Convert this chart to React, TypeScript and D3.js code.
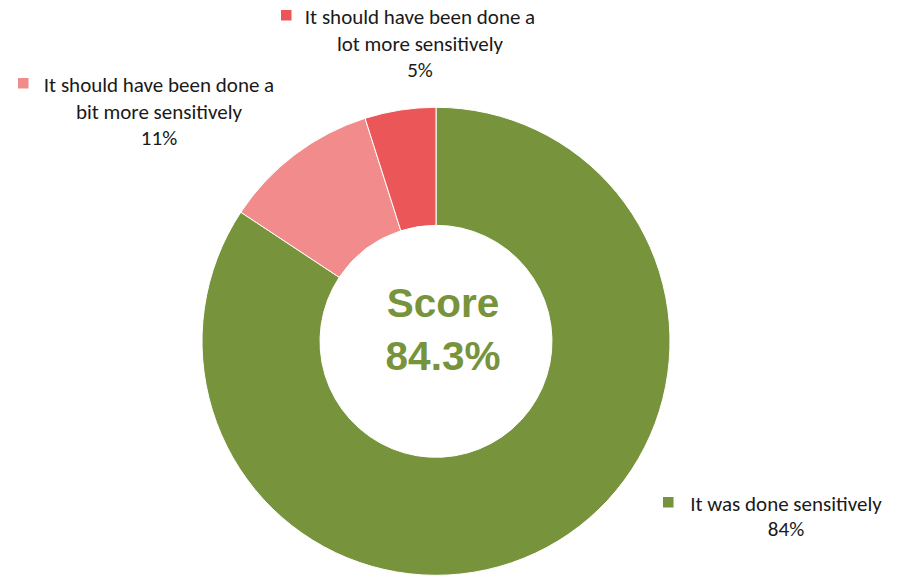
import React from "react";
import * as d3 from "d3";

const categories = [
  "It was done sensitively",
  "It should have been done a bit more sensitively",
  "It should have been done a lot more sensitively",
];
const values = [84.3, 10.8, 4.9];
const labelPct = ["84%", "11%", "5%"];
const colors = ["#77933C", "#F28C8C", "#EB5658"];
const labelLines = [
  ["It was done sensitively", "84%"],
  ["It should have been done a", "bit more sensitively", "11%"],
  ["It should have been done a", "lot more sensitively", "5%"],
];
const scoreLines = ["Score", "84.3%"];

export default function App() {
  const W = 902, H = 579;
  const cx = 436, cy = 341.3, rOut = 234, rIn = 116;
  const pie = d3.pie<number>().value((d) => d).sort(null);
  const arcs = pie(values);
  const arcGen = d3.arc<d3.PieArcDatum<number>>().innerRadius(rIn).outerRadius(rOut);
  const labelPos = [
    { x: 786, y: 510.5, mx: 663, my: 497 },
    { x: 159, y: 92, mx: 18, my: 78 },
    { x: 420, y: 24, mx: 281, my: 10 },
  ];
  const lh = 26.5;
  const font = "Carlito, Calibri, Lato, 'Open Sans', sans-serif";
  return (
    <div style={{ position: "absolute", left: 0, top: 0 }}>
      <svg width={W} height={H} style={{ display: "block" }}>
        <rect width={W} height={H} fill="#fff" />
        <g transform={`translate(${cx},${cy})`}>
          {arcs.map((a, i) => (
            <path key={i} d={arcGen(a) || ""} fill={colors[i]} stroke="#fff" strokeWidth={1} />
          ))}
        </g>
        {labelLines.map((lines, i) => {
          const p = labelPos[i];
          return (
            <g key={i}>
              <rect x={p.mx} y={p.my} width={10.5} height={10.5} fill={colors[i]} />
              {lines.map((t, j) => (
                <text
                  key={j}
                  x={p.x}
                  y={p.y + j * (i === 0 ? 25.5 : lh)}
                  textAnchor="middle"
                  fontFamily={font}
                  fontSize={21}
                  fill="#1a1a1a"
                >
                  {t}
                </text>
              ))}
              <title>{categories[i] + " " + labelPct[i]}</title>
            </g>
          );
        })}
        {scoreLines.map((t, j) => (
          <text
            key={j}
            x={443}
            y={317 + j * 53}
            textAnchor="middle"
            fontFamily="'Liberation Sans', Arial, sans-serif"
            fontWeight="bold"
            fontSize={40.5}
            fill="#77933C"
          >
            {t}
          </text>
        ))}
      </svg>
    </div>
  );
}
